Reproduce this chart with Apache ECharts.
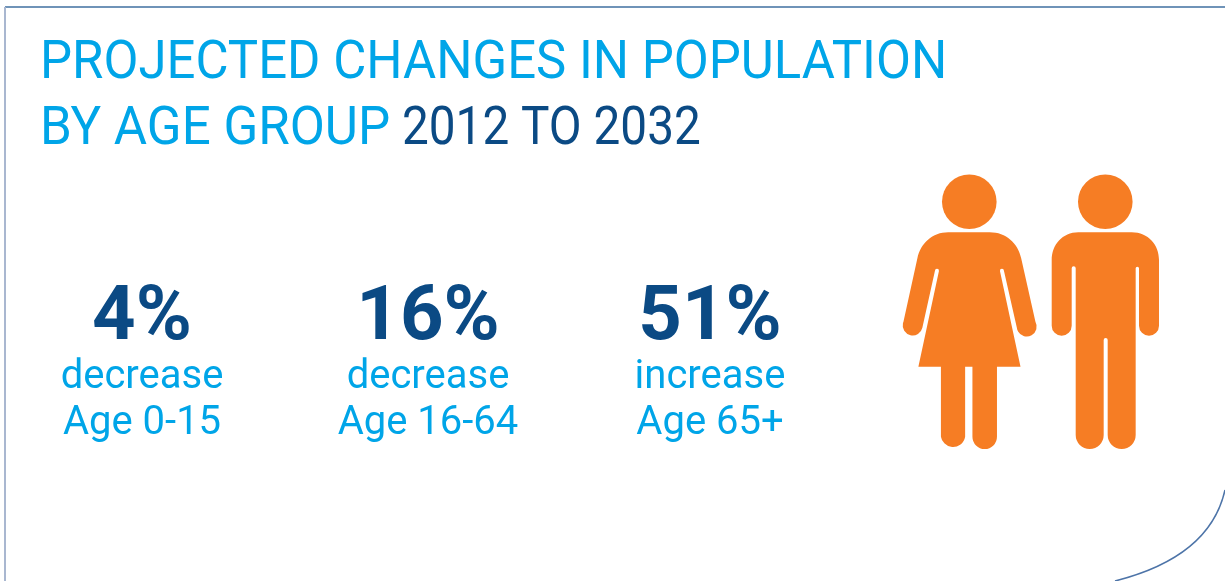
<!DOCTYPE html>
<html>
<head>
<meta charset="utf-8">
<style>
  html, body { margin: 0; padding: 0; background: #fff; }
  #main { width: 1225px; height: 581px; }
</style>
<script src="https://cdn.jsdelivr.net/npm/echarts@6/dist/echarts.min.js"></script>
</head>
<body>
<div id="main"></div>
<script>
// chart values
const ageGroups = ['Age 0-15', 'Age 16-64', 'Age 65+'];
const changePct = [4, 16, 51];
const direction = ['decrease', 'decrease', 'increase'];

const titleLine1 = 'PROJECTED CHANGES IN POPULATION';
const titleLine2 = 'BY AGE GROUP';
const titleYears = '2012 TO 2032';

const lightBlue = '#00a5e8';
const darkBlue = '#0b4a84';
const orange = '#f67d24';
const fontFamily = 'Roboto, sans-serif';

// pictograms, drawn on a 3x canvas and scaled down through the cover box
const womanPath = 'M175 217 L300 217 C350 217 385 250 395 295 L438 485 A30 30 0 1 1 382 503 L343 332 A6 6 0 0 0 331 333 ' +
  'L393 620 L322 620 L322 830 A37 37 0 0 1 248 830 L248 620 L226 620 L226 830 A37 37 0 0 1 153 830 L153 620 L85 620 ' +
  'L147 333 A6 6 0 0 0 135 332 L97 503 A30 30 0 1 1 40 485 L82 295 C92 250 127 217 175 217 Z';
const manPath = 'M565 217 L725 217 C775 217 807 255 807 300 L807 497 A30 30 0 0 1 747 497 L747 325 A5 5 0 0 0 737 325 ' +
  'L737 825 A42 42 0 0 1 653 825 L653 540 A6 6 0 0 0 641 540 L641 825 A42 42 0 0 1 557 825 L557 325 A6 6 0 0 0 545 325 ' +
  'L545 497 A30 30 0 0 1 485 497 L485 300 C485 255 517 217 565 217 Z';

const chart = echarts.init(document.getElementById('main'), null, { renderer: 'canvas' });

function statItem(params, api) {
  const i = params.dataIndex;
  const cx = api.coord([api.value(0), 0])[0] + (i === 1 ? 2 : 0);
  const txt = (text, y, size, color, weight) => ({
    type: 'text',
    x: cx,
    y: y,
    style: {
      text: text,
      fill: color,
      font: weight + ' ' + size + 'px ' + fontFamily,
      textAlign: 'center',
      textVerticalAlign: 'middle'
    }
  });
  return {
    type: 'group',
    children: [
      txt(api.value(1) + '%', 320, 76, darkBlue, 700),
      txt(direction[i], 378, 40, lightBlue, 400),
      txt(ageGroups[i], 424, 40, lightBlue, 400)
    ]
  };
}

function peopleItem() {
  const body = (d, x, width) => ({
    type: 'path',
    shape: { pathData: d, layout: 'cover', x: x, y: 232.3, width: width, height: 216.7 },
    style: { fill: orange }
  });
  return {
    type: 'group',
    children: [
      { type: 'circle', shape: { cx: 969.3, cy: 201.7, r: 27.3 }, style: { fill: orange } },
      { type: 'circle', shape: { cx: 1105.3, cy: 201.7, r: 27.3 }, style: { fill: orange } },
      body(womanPath, 902.7, 134),
      body(manPath, 1051.7, 107.3)
    ]
  };
}

function titleText(text, x, y, color, sx) {
  return {
    type: 'text',
    x: x,
    y: y,
    scaleX: sx,
    style: { text: text, fill: color, font: '400 53px ' + fontFamily, textAlign: 'left', textVerticalAlign: 'middle' }
  };
}

const option = {
  animation: false,
  backgroundColor: '#fff',
  grid: { left: 0, top: 0, width: 852, height: 581 },
  xAxis: { type: 'category', data: ageGroups, show: false },
  yAxis: { type: 'value', min: 0, max: 100, show: false },
  series: [
    {
      type: 'custom',
      renderItem: statItem,
      silent: true,
      clip: false,
      encode: { x: 0 },
      data: changePct.map((v, i) => [i, v])
    },
    {
      type: 'custom',
      coordinateSystem: 'none',
      renderItem: peopleItem,
      silent: true,
      data: [0]
    }
  ],
  graphic: [
    titleText(titleLine1, 40, 65, lightBlue, 0.96),
    titleText(titleLine2, 40, 131, lightBlue, 0.964),
    titleText(titleYears, 402, 131, darkBlue, 0.9),
    { type: 'line', shape: { x1: 5, y1: 7, x2: 1225, y2: 7 }, style: { stroke: '#6f93b8', lineWidth: 2 } },
    { type: 'line', shape: { x1: 5, y1: 7, x2: 5, y2: 581 }, style: { stroke: '#a9b7d0', lineWidth: 2 } },
    { type: 'bezierCurve', shape: { x1: 1225, y1: 490, cpx1: 1210, cpy1: 557, x2: 1115, y2: 581 }, style: { stroke: '#4d74a8', lineWidth: 1.5, fill: 'none' } }
  ]
};

chart.setOption(option);
</script>
</body>
</html>
